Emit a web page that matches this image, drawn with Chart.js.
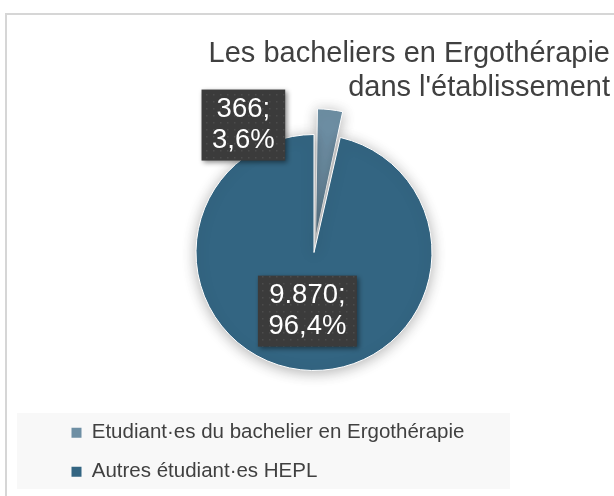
<!DOCTYPE html>
<html>
<head>
<meta charset="utf-8">
<title>Les bacheliers en Ergothérapie dans l'établissement</title>
<script src="https://cdn.jsdelivr.net/npm/chart.js@4.4.1/dist/chart.umd.min.js"></script>
<style>
  html, body { margin: 0; padding: 0; background: #fff; }
  canvas { display: block; }
</style>
</head>
<body>
<canvas id="pieChart" width="614" height="496"></canvas>
<script>
// --- DATA ---
const categories = ['Etudiant·es du bachelier en Ergothérapie', 'Autres étudiant·es HEPL'];
const studentCounts = [366, 9870];
const sliceColors = ['#6E8FA4', '#336582'];
const sliceOffsets = [58, 0];
const titleLines = ['Les bacheliers en Ergothérapie', "dans l'établissement"];

const FONT = "'Liberation Sans', Arial, Helvetica, sans-serif";

// --- FORMAT (9.870 ; 96,4%) ---
function formatCount(v) {
    return String(v).replace(/\B(?=(\d{3})+(?!\d))/g, '.');
}
function formatPercent(v, total) {
    return (v / total * 100).toFixed(1).replace('.', ',') + '%';
}

function makeDotPattern(ctx) {
    const tile = document.createElement('canvas');
    tile.width = 7; tile.height = 7;
    const t = tile.getContext('2d');
    t.fillStyle = '#3b3b3b';
    t.fillRect(0, 0, 7, 7);
    t.fillStyle = '#4c4c4c';
    t.fillRect(3, 3, 1.5, 1.5);
    return ctx.createPattern(tile, 'repeat');
}

// --- PLUGINS ---
// cadre gris + fond de la légende
const framePlugin = {
    id: 'frame',
    beforeDraw(chart) {
        const { ctx, legend } = chart;
        ctx.save();
        ctx.fillStyle = '#fff';
        ctx.fillRect(0, 0, chart.width, chart.height);
        ctx.strokeStyle = '#d6d6d6';
        ctx.lineWidth = 2;
        ctx.beginPath();
        ctx.moveTo(6, chart.height);
        ctx.lineTo(6, 14);
        ctx.lineTo(chart.width, 14);
        ctx.stroke();
        ctx.fillStyle = '#f8f8f8';
        ctx.fillRect(17, legend.top + 9, 493, legend.bottom - legend.top - 12);
        ctx.restore();
    }
};

// décale la légende vers la droite sans bouger le camembert
const legendIndentPlugin = {
    id: 'legendIndent',
    afterLayout(chart, args, opts) {
        chart.legend.left += opts.indent;
        chart.legend.right += opts.indent;
    }
};

const shadowPlugin = {
    id: 'pieShadow',
    beforeDatasetsDraw(chart) {
        const ctx = chart.ctx;
        ctx.save();
        ctx.shadowColor = 'rgba(0,0,0,0.3)';
        ctx.shadowBlur = 14;
        ctx.shadowOffsetY = 2;
    },
    afterDatasetsDraw(chart) {
        chart.ctx.restore();
    }
};

// étiquettes "valeur; pourcentage" dans des boîtes sombres
const sliceLabelPlugin = {
    id: 'sliceLabels',
    afterDraw(chart, args, opts) {
        const { ctx } = chart;
        const meta = chart.getDatasetMeta(0);
        const values = chart.data.datasets[0].data;
        const total = values.reduce((a, b) => a + b, 0);
        const pattern = makeDotPattern(ctx);
        ctx.save();
        ctx.font = `${opts.fontSize}px ${FONT}`;
        ctx.textAlign = 'center';
        ctx.textBaseline = 'middle';
        meta.data.forEach((arc, i) => {
            const lines = [formatCount(values[i]) + ';', formatPercent(values[i], total)];
            const c = arc.getCenterPoint();
            const shift = opts.shifts[i] || [0, 0];
            const cx = c.x + shift[0];
            const cy = c.y + shift[1];
            const w = Math.max(...lines.map(l => ctx.measureText(l).width)) + 2 * opts.padX;
            const h = lines.length * opts.lineGap + 2 * opts.padY;

            ctx.save();
            ctx.shadowColor = 'rgba(0,0,0,0.45)';
            ctx.shadowBlur = 5;
            ctx.shadowOffsetX = 2;
            ctx.shadowOffsetY = 2;
            ctx.fillStyle = pattern;
            ctx.fillRect(cx - w / 2, cy - h / 2, w, h);
            ctx.restore();

            ctx.fillStyle = '#fff';
            lines.forEach((l, k) => {
                ctx.fillText(l, cx, cy + (k - (lines.length - 1) / 2) * opts.lineGap);
            });
        });
        ctx.restore();
    }
};

// --- GRAPHIQUE ---
const ctx = document.getElementById('pieChart').getContext('2d');
const baseLabels = Chart.overrides.pie.plugins.legend.labels.generateLabels;

window.myPieChart = new Chart(ctx, {
    type: 'pie',
    data: {
        labels: categories,
        datasets: [{
            data: studentCounts,
            backgroundColor: sliceColors,
            borderColor: '#ffffff',
            borderWidth: 1,
            offset: sliceOffsets,
            hoverOffset: 0,
            clip: false
        }]
    },
    options: {
        responsive: false,
        animation: false,
        events: [],
        radius: 118,
        layout: { padding: { left: 18, right: 4, top: 0, bottom: 4 } },
        plugins: {
            title: {
                display: true,
                text: titleLines,
                align: 'end',
                color: '#404040',
                font: { family: FONT, size: 29, weight: 'normal', lineHeight: 34 / 29 },
                padding: { top: 37, bottom: -4 }
            },
            legend: {
                position: 'bottom',
                align: 'start',
                labels: {
                    color: '#404040',
                    font: { family: FONT, size: 20.5 },
                    boxWidth: 10,
                    boxHeight: 10,
                    padding: 18.5,
                    generateLabels: (chart) => baseLabels(chart).map(item => ({ ...item, lineWidth: 0 }))
                }
            },
            tooltip: { enabled: false },
            legendIndent: { indent: 35 },
            sliceLabels: {
                fontSize: 27.5,
                lineGap: 31.5,
                padX: 10.5,
                padY: 4,
                shifts: [[-80.5, -40], [0, 0]]
            }
        }
    },
    plugins: [framePlugin, legendIndentPlugin, shadowPlugin, sliceLabelPlugin]
});
</script>
</body>
</html>
